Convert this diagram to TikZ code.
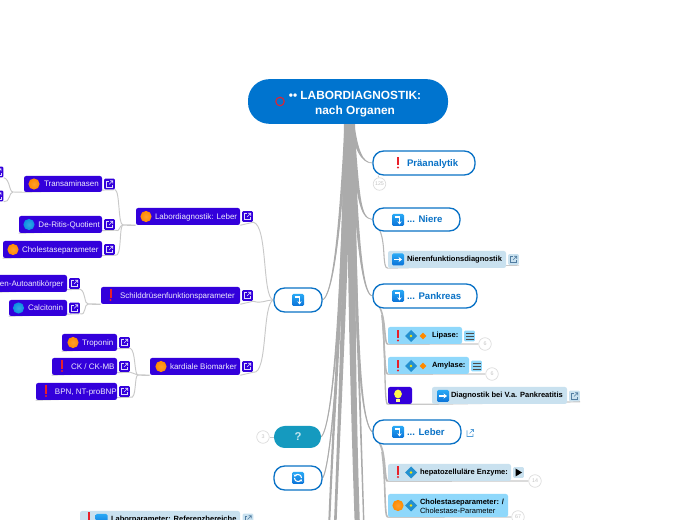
\documentclass[tikz,border=0pt]{standalone}
\usepackage{fontspec}
\setmainfont{Liberation Sans}
\usetikzlibrary{calc,arrows.meta,backgrounds}
\definecolor{rootblue}{HTML}{0074CF}
\definecolor{edgeblue}{HTML}{0A72C6}
\definecolor{darkbox}{HTML}{3300DB}
\definecolor{lightbox}{HTML}{C9E1EF}
\definecolor{brightbox}{HTML}{8FD8FB}
\definecolor{tealbox}{HTML}{159ABF}
\definecolor{trunkgrey}{HTML}{ABABAB}
\definecolor{thingrey}{HTML}{C9C9C9}
\definecolor{numgrey}{HTML}{C4C4C4}
\definecolor{icontop}{HTML}{29A9F5}
\definecolor{iconbot}{HTML}{0A72D8}
\definecolor{balla}{HTML}{FF8A00}
\definecolor{ballb}{HTML}{0A8FE0}
\definecolor{bangred}{HTML}{E8202A}
\tikzset{
  x=0.75pt,y=-0.75pt,
  darkn/.style={fill=darkbox,rounded corners=1.6pt,text=white!92!darkbox,font=\fontsize{6pt}{7pt}\selectfont},
  lightn/.style={fill=lightbox,rounded corners=1.6pt,text=black,font=\fontsize{5.65pt}{7pt}\selectfont\bfseries},
  brightn/.style={fill=brightbox,rounded corners=1.6pt,text=black,font=\fontsize{5.65pt}{7pt}\selectfont\bfseries},
  pilln/.style={draw=edgeblue,line width=1pt,fill=white,rounded corners=8pt,text=edgeblue,font=\fontsize{7.2pt}{9pt}\selectfont\bfseries},
  tealn/.style={fill=tealbox,rounded corners=8pt,text=white!75!tealbox,font=\fontsize{8.5pt}{9pt}\selectfont\bfseries},
  linkn/.style={rectangle,rounded corners=1pt,minimum size=8.2pt,inner sep=0pt},
  numc/.style={circle,draw=numgrey!60!white,fill=white,line width=.5pt,minimum size=9.4pt,inner sep=0pt,text=numgrey,font=\fontsize{4pt}{4pt}\selectfont},
  conn/.style={draw=thingrey,line width=.7pt},
  subconn/.style={draw=trunkgrey!85!white,line width=.8pt},
  fan/.style={fill=trunkgrey}
}
\newcommand\nbox[8]{%
  \pgfmathsetmacro\nw{(#5-#3)*0.75}\pgfmathsetmacro\nh{(#6-#4)*0.75}%
  \node[#1,inner sep=0pt,text width=\nw pt,minimum height=\nh pt,align=flush left] (#2) at ({(#3+#5)/2},{(#4+#6)/2}) {\hspace*{\dimexpr #7pt*3/4\relax}\rule[-.25em]{0pt}{1.14em}#8};}
\newcommand\lnk[5]{% fill, icon colour, name, x, y
  \node[linkn,fill=#1] (#3) at (#4,#5) {};
  \draw[#2,line width=.45pt] (#4-1,#5-3)--(#4-3,#5-3)--(#4-3,#5+3)--(#4+3,#5+3)--(#4+3,#5+1);
  \draw[#2,line width=.45pt] (#4-.5,#5+.5)--(#4+3.2,#5-3.2) (#4+.5,#5-3.2)--(#4+3.2,#5-3.2)--(#4+3.2,#5-.5);}
\newcommand\ballicon[3]{\shade[inner color=#3!82!white,outer color=#3] (#1,#2) circle[radius=4.2pt];}
\newcommand\bang[2]{\fill[bangred] (#1-1,#2-6) rectangle (#1+1,#2+2.4); \fill[bangred] (#1,#2+4.6) circle[radius=.85pt];}
\newcommand\sq[2]{\shade[top color=icontop,bottom color=iconbot,rounded corners=1pt] (#1-6,#2-6) rectangle (#1+6,#2+6);}
\newcommand\arrowicon[2]{\sq{#1}{#2}\draw[white,line width=1pt,-{Stealth[length=2.6pt,width=3.8pt]}] (#1-4,#2)--(#1+4,#2);}
\newcommand\turnicon[2]{\sq{#1}{#2}\draw[white,line width=1pt,-{Stealth[length=2.4pt,width=3.4pt]}] (#1-3.5,#2-3)--(#1+1.5,#2-3)--(#1+1.5,#2+4.5);}
\newcommand\refreshicon[2]{\sq{#1}{#2}
  \draw[white,line width=.8pt,-{Stealth[length=1.6pt,width=2.6pt]}] (#1+3.6,#2) arc[start angle=0,end angle=160,radius=2.7pt];
  \draw[white,line width=.8pt,-{Stealth[length=1.6pt,width=2.6pt]}] (#1-3.6,#2) arc[start angle=180,end angle=340,radius=2.7pt];}
\newcommand\diam[2]{\fill[icontop!85!black] (#1-6,#2)--(#1,#2-6)--(#1+6,#2)--(#1,#2+6)--cycle; \fill[yellow!90!orange] (#1,#2) circle[radius=1pt];}
\newcommand\odiam[2]{\fill[balla] (#1-3.4,#2)--(#1,#2-3.4)--(#1+3.4,#2)--(#1,#2+3.4)--cycle;}
\newcommand\taper[6]{% start #1; controls #2 #3; end #4; half widths #5 #6
  \fill[fan] ($(#1)+(-#5,0)$) .. controls ($(#2)+(-#5,0)$) and ($(#3)+(-#6,0)$) .. ($(#4)+(-#6,0)$) -- ($(#4)+(#6,0)$) .. controls ($(#3)+(#6,0)$) and ($(#2)+(#5,0)$) .. ($(#1)+(#5,0)$) -- cycle;}
\begin{document}
\begin{tikzpicture}
\path[use as bounding box] (0,0) rectangle (697,520);
% root
\node[fill=rootblue,rounded corners=16pt,minimum width=150pt,minimum height=33.5pt,text=white,align=center,inner sep=0pt,font=\fontsize{8.9pt}{11.4pt}\selectfont\bfseries] (root) at (348,101.5) {\rule{0pt}{1.2em}\hspace*{10.5pt}•• LABORDIAGNOSTIK:\\\hspace*{10.5pt}nach Organen};
% level one
\nbox{pilln}{pra}{373}{151}{475}{175}{34}{Präanalytik}
\nbox{pilln}{nie}{373}{208}{460}{231}{34}{... Niere}
\nbox{pilln}{pan}{373}{284}{477}{308}{34}{... Pankreas}
\nbox{pilln}{leb}{373}{420}{461}{444}{34}{... Leber}
\nbox{pilln}{tur}{274}{288}{322}{312}{0}{}
\nbox{tealn}{que}{274}{426}{321}{448}{20.5}{?}
\nbox{pilln}{ref}{274}{466}{322}{490}{0}{}
% right details
\nbox{lightn}{nfd}{388}{251}{506}{268}{19}{Nierenfunktionsdiagnostik}
\lnk{lightbox}{edgeblue!60!black!70!white}{nfdl}{513.5}{259.5}
\nbox{brightn}{lip}{388}{327}{462}{344}{44}{Lipase:}
\node[linkn,fill=brightbox] (lipl) at (469.5,336) {};
\nbox{brightn}{amy}{388}{357}{469}{374}{44}{Amylase:}
\node[linkn,fill=brightbox] (amyl) at (476.5,366) {};
\nbox{darkn}{bul}{388}{387}{412}{404}{0}{}
\nbox{lightn}{dia}{432}{387}{567}{404}{19}{Diagnostik bei V.a. Pankreatitis}
\lnk{lightbox}{edgeblue!60!black!70!white}{dial}{574.5}{396}
\nbox{lightn}{hep}{388}{464}{511}{481}{32}{hepatozelluläre Enzyme:}
\node[linkn,fill=lightbox] (hepl) at (518.5,472.5) {};
\nbox{brightn}{cho}{388}{494}{508}{517}{32}{Cholestaseparameter: /\\\hspace*{24pt}\mdseries Cholestase-Parameter}
\node[numc] (n125) at (379.5,184) {125};
\node[numc] (n6a) at (485,344) {6};
\node[numc] (n6b) at (492,374) {6};
\node[numc] (n14) at (535,481) {14};
\node[numc] (n67) at (518,517) {67};
\node[numc] (n3) at (263,437) {3};
% left details
\nbox{darkn}{lab}{136}{208}{240}{225}{19}{Labordiagnostik: Leber}
\lnk{darkbox}{white!85!darkbox}{labl}{247.5}{216.5}
\nbox{darkn}{tra}{24}{176}{102}{192}{20}{Transaminasen}
\lnk{darkbox}{white!85!darkbox}{tral}{109.5}{184}
\nbox{darkn}{der}{19}{216}{102}{233}{19.5}{De-Ritis-Quotient}
\lnk{darkbox}{white!85!darkbox}{derl}{109.5}{224.5}
\nbox{darkn}{chl}{3}{241}{102}{258}{19}{Cholestaseparameter}
\lnk{darkbox}{white!85!darkbox}{chll}{109.5}{249.5}
\lnk{darkbox}{white!85!darkbox}{cutA}{-2}{172}
\lnk{darkbox}{white!85!darkbox}{cutB}{-2}{196}
\nbox{darkn}{sch}{101}{287}{240}{304}{19}{Schilddrüsenfunktionsparameter}
\lnk{darkbox}{white!85!darkbox}{schl}{247.5}{295.5}
\nbox{darkn}{aut}{-4}{275}{67}{292}{4}{en-Autoantikörper}
\lnk{darkbox}{white!85!darkbox}{autl}{74.5}{283.5}
\nbox{darkn}{cal}{9}{300}{67}{316}{19}{Calcitonin}
\lnk{darkbox}{white!85!darkbox}{call}{74.5}{308}
\nbox{darkn}{kar}{150}{358}{240}{375}{20}{kardiale Biomarker}
\lnk{darkbox}{white!85!darkbox}{karl}{247.5}{366.5}
\nbox{darkn}{tro}{62}{334}{117}{351}{20}{Troponin}
\lnk{darkbox}{white!85!darkbox}{trol}{124.5}{342.5}
\nbox{darkn}{cki}{52}{358}{117}{375}{19}{CK / CK-MB}
\lnk{darkbox}{white!85!darkbox}{ckil}{124.5}{366.5}
\nbox{darkn}{bnp}{36}{383}{117}{400}{19}{BPN, NT-proBNP}
\lnk{darkbox}{white!85!darkbox}{bnpl}{124.5}{391.5}
\nbox{lightn}{rfb}{80}{511}{240}{528}{31}{Laborparameter: Referenzbereiche}
\lnk{lightbox}{edgeblue!60!black!70!white}{rfbl}{248}{519}
% icons
\bang{398}{163}
\turnicon{398}{220}
\turnicon{398}{296}
\turnicon{398}{432}
\turnicon{298}{300}
\refreshicon{298}{478}
\draw[edgeblue!70!white,line width=.5pt] (467,430.5)--(467,436.5)--(473,436.5)--(473,434) (469.5,433.5)--(473.5,429.5) (470.5,429.5)--(473.5,429.5)--(473.5,432);
\arrowicon{398}{259.5}
\arrowicon{443}{396}
\bang{398}{336}\diam{411}{336}\odiam{423}{336}
\bang{398}{366}\diam{411}{366}\odiam{423}{366}
\bang{398}{472.5}\diam{411}{472.5}
\ballicon{398}{505.5}{balla}\diam{411}{505.5}
\fill[yellow!70!white] (398,394) ellipse[x radius=2.9pt,y radius=3.3pt];
\fill[yellow!45!white] (396,399) rectangle (400,402);
\foreach \ly in {-3,0,3}{\draw[black!70,line width=.5pt] (465.5,336+\ly)--(473.5,336+\ly) (472.5,366+\ly)--(480.5,366+\ly);}
\fill[black] (515.5,468.5)--(522,472.5)--(515.5,476.5)--cycle;
\ballicon{146}{216.5}{balla}
\ballicon{34}{184}{balla}
\ballicon{29}{224.5}{ballb}
\ballicon{13}{249.5}{balla}
\bang{110.5}{295.5}
\ballicon{18.5}{308}{ballb}
\ballicon{161}{366.5}{balla}
\ballicon{73}{342.5}{balla}
\bang{62}{366.5}
\bang{46}{391.5}
\bang{89}{518}
\sq{101.5}{520}
\draw[bangred,line width=.8pt] (280,101.5) circle[radius=3.2pt];
% connectors
\coordinate (ra) at (346,122);
\coordinate (rb) at (348,122);
\coordinate (rc) at (351,122);
\coordinate (rd) at (352,122);
\coordinate (endA) at (329,530);
\coordinate (endB) at (335,530);
\coordinate (endC) at (357.5,530);
\coordinate (endD) at (364,530);
\coordinate (fkLab) at (123,225);
\coordinate (fkTra) at (13,192);
\coordinate (fkSch) at (88,304);
\coordinate (fkKar) at (138,375);
\begin{pgfonlayer}{background}
\fill[white] (0,0) rectangle (697,520);
\draw[conn] (root.south) .. controls (340,240) and (332,295) .. (tur.east);
\draw[conn] (root.south) .. controls (341,320) and (332,425) .. (que.east);
\draw[conn] (root.south) .. controls (342,340) and (331,465) .. (ref.east);
\draw[conn] (root.south) .. controls (356,150) and (362,163) .. (pra.west);
\draw[conn] (root.south) .. controls (358,200) and (360,218) .. (nie.west);
\draw[conn] (root.south) .. controls (356,230) and (362,295) .. (pan.west);
\draw[conn] (root.south) .. controls (354,300) and (358,420) .. (leb.west);
\taper{ra}{345,250}{333,420}{endA}{2}{1}
\taper{rb}{346,270}{340,400}{endB}{3}{1.3}
\taper{rc}{351,270}{353,400}{endC}{4}{2.6}
\taper{rd}{356,300}{360,400}{endD}{1.4}{.7}
\taper{rd}{356,300}{358,420}{leb.west}{1.8}{.5}
\taper{rd}{356,150}{362,163}{pra.west}{2}{.5}
\taper{rd}{358,200}{360,218}{nie.west}{2}{.5}
\taper{rd}{356,230}{362,295}{pan.west}{2}{.5}
\taper{ra}{340,240}{332,295}{tur.east}{1.4}{.4}
\taper{ra}{341,320}{332,425}{que.east}{1.2}{.4}
\taper{ra}{342,340}{331,465}{ref.east}{1.2}{.4}
\draw[conn] (pra.south west) ++(6,0) -- (n125);
\draw[conn] (que.west) -- (n3);
% right sub branches
\draw[subconn] (380,231) .. controls (386,245) and (382,268) .. (nfd.south west);
\draw[conn] (nfd.south west) -- (nfdl.south east);
\draw[subconn,line width=1.2pt] (380,308) .. controls (386,320) and (384,344) .. (lip.south west);
\draw[conn,line width=.9pt] (lip.south west) -- (n6a);
\draw[subconn,line width=1.2pt] (382,315) .. controls (385,340) and (384,374) .. (amy.south west);
\draw[conn,line width=.9pt] (amy.south west) -- (n6b);
\draw[subconn,line width=1pt] (382,315) .. controls (386,360) and (384,404) .. (bul.south west);
\draw[conn,line width=.9pt] (bul.south west) -- (dia.south west) -- (dial.south east);
\draw[subconn,line width=1.4pt] (380,444) .. controls (386,455) and (384,481) .. (hep.south west);
\draw[conn,line width=.9pt] (hep.south west) -- (n14);
\draw[subconn,line width=1.2pt] (382,452) .. controls (386,480) and (384,517) .. (cho.south west);
\draw[conn,line width=.9pt] (cho.south west) -- (n67);
% left sub branches
\draw[conn,line width=1pt] (lab.south west) -- (fkLab);
\draw[conn] (lab.south east) -- (labl.south east) .. controls (268,225) and (262,298) .. (tur.west);
\draw[conn] (sch.south east) -- (schl.south east) .. controls (262,304) and (265,300) .. (tur.west);
\draw[conn] (kar.south east) -- (karl.south east) .. controls (268,375) and (262,304) .. (tur.west);
\draw[conn] (fkLab) .. controls (118,225) and (120,192) .. (tral.south east) -- (tra.south west) -- (fkTra);
\draw[conn] (fkLab) .. controls (119,225) and (120,233) .. (derl.south east) -- (der.south west);
\draw[conn] (fkLab) .. controls (119,225) and (122,258) .. (chll.south east) -- (chl.south west);
\draw[conn] (fkTra) .. controls (9,192) and (10,179) .. (cutA.south east);
\draw[conn] (fkTra) .. controls (9,192) and (10,203) .. (cutB.south east);
\draw[conn,line width=1pt] (sch.south west) -- (fkSch);
\draw[conn] (fkSch) .. controls (84,304) and (86,292) .. (autl.south east) -- (aut.south west);
\draw[conn] (fkSch) .. controls (84,304) and (86,316) .. (call.south east) -- (cal.south west);
\draw[conn,line width=1pt] (kar.south west) -- (fkKar);
\draw[conn] (fkKar) .. controls (134,375) and (136,351) .. (trol.south east) -- (tro.south west);
\draw[conn] (fkKar) -- (ckil.south east) -- (cki.south west);
\draw[conn] (fkKar) .. controls (134,375) and (137,400) .. (bnpl.south east) -- (bnp.south west);
\end{pgfonlayer}
\end{tikzpicture}
\end{document}
